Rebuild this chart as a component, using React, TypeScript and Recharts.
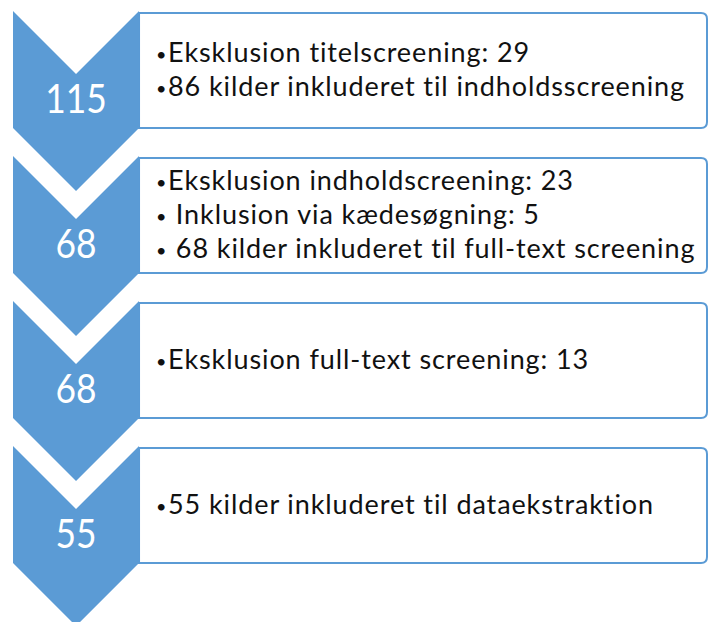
import React from "react";
import { BarChart, Bar, XAxis, YAxis } from "recharts";

// stages of the source screening, top to bottom
const stages = ["Titelscreening", "Indholdsscreening", "Full-text screening", "Dataekstraktion"];
const counts = [115, 68, 68, 55];
const stageNotes = [
  ["•Eksklusion titelscreening: 29", "•86 kilder inkluderet til indholdsscreening"],
  ["•Eksklusion indholdscreening: 23", "• Inklusion via kædesøgning: 5", "• 68 kilder inkluderet til full-text screening"],
  ["•Eksklusion full-text screening: 13"],
  ["•55 kilder inkluderet til dataekstraktion"],
];

const chartData = stages.map((stage, i) => ({ stage, count: counts[i], notes: stageNotes[i] }));

const BLUE = "#5B9BD5";

const FlowStep = (props: any) => {
  const { background, payload } = props;
  const left = background?.x ?? props.x;
  const top = background?.y ?? props.y;
  const w = background?.width ?? 694;
  const band = background?.height ?? props.height;

  const cw = w * 0.1816;
  const half = cw / 2;
  const rectBottom = top + band * 0.807;
  const chevron = `M${left},${top} L${left + half},${top + half} L${left + cw},${top} L${left + cw},${rectBottom} L${left + half},${rectBottom + half} L${left},${rectBottom} Z`;

  const x0 = left + cw;
  const x1 = left + w;
  const y0 = top + 2;
  const y1 = rectBottom;
  const r = 6;
  const box = `M${x0},${y0} H${x1 - r} Q${x1},${y0} ${x1},${y0 + r} V${y1 - r} Q${x1},${y1} ${x1 - r},${y1} H${x0} Z`;

  const notes: string[] = payload.notes;
  const lineGap = 34;
  const firstBase = top + 68 - ((notes.length - 1) * lineGap) / 2;
  const label = String(payload.count);

  return (
    <g>
      <path d={box} fill="#fff" stroke={BLUE} strokeWidth={2} />
      <path d={chevron} fill={BLUE} />
      <text
        x={left + half}
        y={top + 102}
        textAnchor="middle"
        fill="#fff"
        fontSize={41}
        fontFamily="Lato, sans-serif"
        textLength={label.length * 20.5}
        lengthAdjust="spacingAndGlyphs"
      >
        {label}
      </text>
      {notes.map((line, i) => {
        const y = firstBase + i * lineGap;
        return (
          <g key={i}>
            <text x={x0 + 17} y={y - 1} fill="#111" fontSize={18} fontFamily="Lato, sans-serif">
              •
            </text>
            <text
              x={x0 + 29}
              y={y}
              fill="#111"
              fontSize={27}
              letterSpacing={0.9}
              fontFamily="Lato, sans-serif"
              style={{ whiteSpace: "pre" }}
            >
              {line.replace(/^•/, "")}
            </text>
          </g>
        );
      })}
    </g>
  );
};

export default function App() {
  return (
    <div style={{ position: "absolute", left: 0, top: 0, background: "#fff" }}>
      <BarChart
        width={711}
        height={622}
        data={chartData}
        layout="vertical"
        margin={{ top: 11, right: 4, bottom: 31, left: 13 }}
        barCategoryGap={0}
      >
        <XAxis type="number" hide domain={[0, "dataMax"]} />
        <YAxis type="category" dataKey="stage" hide />
        <Bar dataKey="count" shape={<FlowStep />} isAnimationActive={false} />
      </BarChart>
    </div>
  );
}
